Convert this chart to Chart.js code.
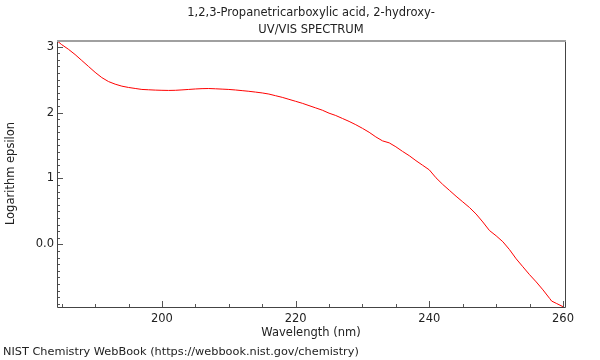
<!DOCTYPE html>
<html><head><meta charset="utf-8">
<script src="https://cdn.jsdelivr.net/npm/chart.js@4"></script>
<style>html,body{margin:0;padding:0;background:#fff}</style>
</head><body>
<canvas id="c" width="600" height="360"></canvas>
<script>
const titleLines = ['1,2,3-Propanetricarboxylic acid, 2-hydroxy-', 'UV/VIS SPECTRUM'];
const footerText = 'NIST Chemistry WebBook (https://webbook.nist.gov/chemistry)';
const xAxisTitle = 'Wavelength (nm)';
const yAxisTitle = 'Logarithm epsilon';

const wavelength = [184.4,185,186,187,188,189,190,191,192,193,194,195,196,197,198,199,200,201,202,203,204,205,206,207,208,209,210,211,212,213,214,215,216,217,218,219,220,221,222,223,224,225,226,227,228,229,230,231,232,233,234,235,236,237,238,239,240,241,242,243,244,245,246,247,248,249,250,251,252,253,254,255,256,257,258,258.3,259,260];
const logEpsilon = [3.08,3.03,2.96,2.88,2.79,2.70,2.61,2.53,2.47,2.43,2.40,2.38,2.365,2.35,2.345,2.34,2.337,2.335,2.337,2.343,2.35,2.357,2.362,2.364,2.36,2.355,2.35,2.342,2.332,2.322,2.31,2.297,2.28,2.255,2.23,2.20,2.17,2.14,2.105,2.07,2.035,1.99,1.955,1.91,1.865,1.815,1.76,1.70,1.63,1.57,1.54,1.48,1.41,1.345,1.27,1.20,1.13,1.01,0.91,0.82,0.73,0.645,0.56,0.46,0.34,0.21,0.13,0.04,-0.08,-0.22,-0.34,-0.46,-0.57,-0.69,-0.82,-0.86,-0.895,-0.945];

const xTickValues = [200, 220, 240, 260];
const xTickLabels = ['200', '220', '240', '260'];
const yTickValues = [0, 1, 2, 3];
const yTickLabels = ['0.0', '1', '2', '3'];

const textColor = '#222';
const fontFamily = '"DejaVu Sans", sans-serif';
const fontSize = 11.5;
const footerSize = 11.3;

const frameTicks = {
  id: 'frameTicks',
  afterDraw(chart) {
    const {ctx, chartArea: a, scales: {x, y}} = chart;
    ctx.save();
    ctx.lineWidth = 1;
    ctx.strokeStyle = '#555';
    ctx.beginPath();
    for (let v = 185; v <= 260; v += 5) {
      const px = Math.round(x.getPixelForValue(v)) + 0.5;
      const len = v % 20 === 0 ? 6 : 3;
      ctx.moveTo(px, a.bottom);
      ctx.lineTo(px, a.bottom - len);
    }
    for (let i = -9; i <= 31; i++) {
      const v = i / 10;
      if (v < y.min || v > y.max) continue;
      const py = Math.round(y.getPixelForValue(v)) + 0.5;
      const len = i % 10 === 0 ? 6 : 3;
      ctx.moveTo(a.left, py);
      ctx.lineTo(a.left + len, py);
    }
    ctx.stroke();
    ctx.strokeStyle = '#444';
    ctx.beginPath();
    ctx.moveTo(Math.round(a.left) + 0.5, a.top);
    ctx.lineTo(Math.round(a.left) + 0.5, Math.round(a.bottom) + 0.5);
    ctx.lineTo(Math.round(a.right) + 0.5, Math.round(a.bottom) + 0.5);
    ctx.lineTo(Math.round(a.right) + 0.5, a.top);
    ctx.stroke();
    ctx.strokeStyle = '#a0a0a0';
    ctx.lineWidth = 2;
    ctx.beginPath();
    ctx.moveTo(a.left, Math.round(a.top) + 1);
    ctx.lineTo(a.right + 1, Math.round(a.top) + 1);
    ctx.stroke();
    ctx.restore();
  }
};

new Chart(document.getElementById('c'), {
  type: 'line',
  data: {
    datasets: [{
      data: wavelength.map((w, i) => ({x: w, y: logEpsilon[i]})),
      borderColor: '#ff0000',
      borderWidth: 1,
      pointRadius: 0,
      tension: 0,
      fill: false
    }]
  },
  options: {
    responsive: false,
    animation: false,
    events: [],
    layout: {padding: {left: 3, right: 35, top: 0, bottom: 0}},
    plugins: {
      legend: {display: false},
      tooltip: {enabled: false},
      title: {
        display: true,
        text: titleLines,
        fullSize: false,
        color: textColor,
        font: {family: fontFamily, size: fontSize, weight: 'normal', lineHeight: 17 / fontSize},
        padding: {top: 4.5, bottom: 1.5}
      },
      subtitle: {
        display: true,
        text: footerText,
        position: 'bottom',
        align: 'start',
        fullSize: true,
        color: textColor,
        font: {family: fontFamily, size: footerSize, weight: 'normal', lineHeight: 15 / footerSize},
        padding: 0
      }
    },
    scales: {
      x: {
        type: 'linear',
        position: 'bottom',
        min: 184.3,
        max: 260.3,
        afterBuildTicks: s => { s.ticks = xTickValues.map(v => ({value: v})); },
        afterFit: s => { s.height = 38; },
        grid: {display: false, drawTicks: false},
        border: {display: false},
        ticks: {
          autoSkip: false,
          maxRotation: 0,
          color: textColor,
          font: {family: fontFamily, size: fontSize},
          padding: 5,
          callback: v => xTickLabels[xTickValues.indexOf(v)]
        },
        title: {
          display: true,
          text: xAxisTitle,
          color: textColor,
          font: {family: fontFamily, size: fontSize},
          padding: {top: 0, bottom: 5}
        }
      },
      y: {
        type: 'linear',
        position: 'left',
        min: -0.95,
        max: 3.10,
        afterBuildTicks: s => { s.ticks = yTickValues.map(v => ({value: v})); },
        afterFit: s => { s.width = 54; },
        grid: {display: false, drawTicks: false},
        border: {display: false},
        ticks: {
          autoSkip: false,
          color: textColor,
          font: {family: fontFamily, size: fontSize},
          padding: 3,
          callback: v => yTickLabels[yTickValues.indexOf(v)]
        },
        title: {
          display: true,
          text: yAxisTitle,
          color: textColor,
          font: {family: fontFamily, size: fontSize},
          padding: {top: 1, bottom: 0}
        }
      }
    }
  },
  plugins: [frameTicks]
});
</script>
</body></html>
